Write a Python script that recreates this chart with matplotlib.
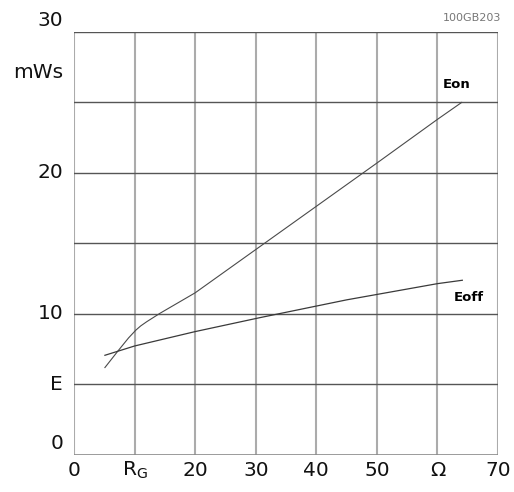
import matplotlib.pyplot as plt

# switching energy vs gate resistance
rg_on = [5.1, 7.3, 9.0, 10.2, 11.0, 12.0, 14.2, 20.0, 50.0, 60.0, 64.0]
e_on = [6.2, 7.4, 8.3, 8.85, 9.15, 9.45, 10.05, 11.5, 20.7, 23.8, 25.0]

rg_off = [5.1, 10.0, 20.0, 30.7, 45.0, 60.0, 64.1]
e_off = [7.07, 7.73, 8.75, 9.74, 11.0, 12.15, 12.39]

x_ticks = [0, 10, 20, 30, 40, 50, 60, 70]
x_labels = ['0', '$\\mathregular{R_G}$', '20', '30', '40', '50', '\u03a9', '70']
y_labels = {0: '0', 5: 'E', 10: '10', 20: '20', 27.1: 'mWs', 30: '30'}

plt.rcParams['font.family'] = ['DejaVu Sans']
fig = plt.figure(figsize=(5.14, 4.92), dpi=100)
ax = fig.add_axes([0.144, 0.0752, 0.825, 0.86])
ax.set_xlim(0, 70)
ax.set_ylim(0, 30)

# grid: light vertical lines, darker horizontal lines
for x in range(0, 71, 10):
    ax.axvline(x, color='#ababab', lw=1.5, zorder=1)
for y in range(5, 31, 5):
    ax.axhline(y, color='#555555', lw=1.0, zorder=2)
ax.axhline(0, color='#8a8a8a', lw=1.2, zorder=2)

for s in ax.spines.values():
    s.set_visible(False)
ax.set_xticks([])
ax.set_yticks([])

ax.plot(rg_on, e_on, color='#4a4a4a', lw=0.8, zorder=3)
ax.plot(rg_off, e_off, color='#3a3a3a', lw=0.9, zorder=3)

ax.text(60.9, 26.3, 'Eon', fontsize=9.5, fontweight='bold', ha='left', va='center')
ax.text(65.2, 11.2, 'Eoff', fontsize=9.5, fontweight='bold', ha='center', va='center')

for x, lab in zip(x_ticks, x_labels):
    ax.text(x, -1.1, lab, fontsize=14.5, ha='center', va='center', color='#111111', clip_on=False)
for y, lab in y_labels.items():
    yy = y + 0.8 if y in (0, 30) else y
    ax.text(-1.8, yy, lab, fontsize=14.5, ha='right', va='center', color='#111111', clip_on=False)

fig.text(0.975, 0.963, '100GB203', fontsize=8, color='#777777', ha='right', va='center')

fig.savefig('out.png', dpi=100)
